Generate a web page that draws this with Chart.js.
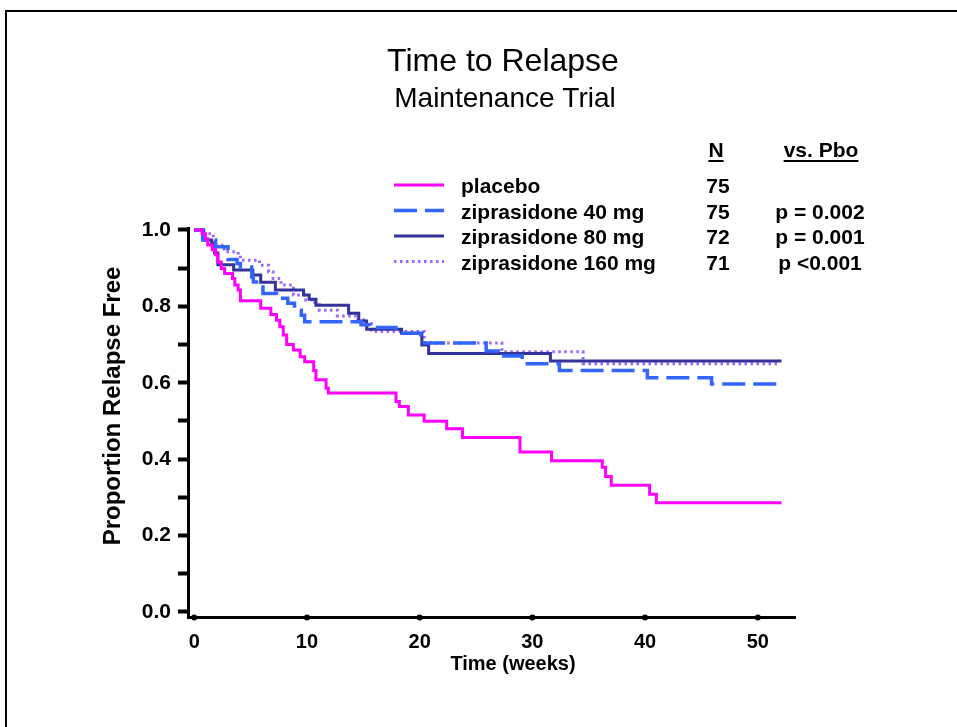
<!DOCTYPE html>
<html>
<head>
<meta charset="utf-8">
<title>Time to Relapse</title>
<script src="https://cdn.jsdelivr.net/npm/chart.js@4.4.1/dist/chart.umd.min.js"></script>
<style>
  html, body { margin: 0; padding: 0; background: #fff; }
  canvas { display: block; }
</style>
</head>
<body>
<canvas id="relapse" width="957" height="727"></canvas>
<script>
// Kaplan-Meier steps: week of the drop, proportion after it
const placeboWeeks = [0, 0.7, 1.0, 1.2, 1.6, 1.9, 2.1, 2.4, 2.7, 3.4, 3.6, 3.9, 4.1, 5.9, 6.8, 7.3, 7.6, 7.9, 8.2, 8.8, 9.4, 9.8, 10.6, 10.8, 11.7, 11.9, 17.9, 18.2, 19.0, 20.4, 22.4, 23.8, 28.9, 31.7, 36.2, 36.5, 37.0, 40.4, 41.0, 52.1];
const placeboFree  = [1.0, 0.99, 0.977, 0.961, 0.948, 0.935, 0.916, 0.899, 0.886, 0.873, 0.856, 0.843, 0.815, 0.795, 0.779, 0.764, 0.747, 0.725, 0.70, 0.686, 0.668, 0.655, 0.632, 0.608, 0.586, 0.573, 0.551, 0.538, 0.516, 0.499, 0.48, 0.457, 0.419, 0.396, 0.379, 0.355, 0.332, 0.308, 0.286, 0.286];

const zip40Weeks = [0, 0.75, 1.9, 3.0, 3.8, 4.1, 5.1, 5.25, 6.1, 7.3, 8.3, 8.9, 9.5, 9.8, 14.8, 15.6, 17.9, 20.1, 20.4, 25.9, 27.0, 29.1, 32.4, 40.2, 45.9, 52.1];
const zip40Free  = [1.0, 0.974, 0.956, 0.923, 0.912, 0.903, 0.877, 0.864, 0.834, 0.821, 0.808, 0.79, 0.777, 0.76, 0.752, 0.745, 0.73, 0.717, 0.704, 0.683, 0.67, 0.65, 0.632, 0.613, 0.597, 0.597];

const zip80Weeks = [0, 0.85, 0.95, 1.55, 1.8, 2.1, 3.5, 5.2, 5.9, 7.2, 9.7, 10.2, 10.8, 13.7, 14.6, 15.3, 18.4, 20.2, 20.8, 31.6, 52.1];
const zip80Free  = [1.0, 0.985, 0.974, 0.966, 0.94, 0.909, 0.895, 0.882, 0.863, 0.843, 0.83, 0.819, 0.803, 0.782, 0.762, 0.74, 0.73, 0.699, 0.677, 0.657, 0.657];

const zip160Weeks = [0, 0.6, 1.7, 1.9, 2.65, 3.9, 4.1, 5.8, 6.6, 7.0, 7.7, 8.8, 9.9, 10.7, 11.1, 12.7, 14.3, 15.2, 15.7, 20.4, 27.3, 34.5, 52.0];
const zip160Free  = [1.0, 0.99, 0.974, 0.96, 0.943, 0.934, 0.921, 0.908, 0.89, 0.873, 0.856, 0.83, 0.817, 0.804, 0.79, 0.775, 0.765, 0.755, 0.734, 0.704, 0.681, 0.65, 0.65];

const groupNames = ["placebo", "ziprasidone 40 mg", "ziprasidone 80 mg", "ziprasidone 160 mg"];
const groupN = ["75", "75", "72", "71"];
const groupP = ["", "p = 0.002", "p = 0.001", "p <0.001"];

const xTicks = [0, 10, 20, 30, 40, 50];
const yTicks = [0, 0.1, 0.2, 0.3, 0.4, 0.5, 0.6, 0.7, 0.8, 0.9, 1.0];
const yTickLabels = ["0.0", "", "0.2", "", "0.4", "", "0.6", "", "0.8", "", "1.0"];

const fam = "'Liberation Sans', Arial, Helvetica, sans-serif";
Chart.defaults.font.family = fam;
Chart.defaults.color = "#000";

function toPoints(weeks, free) {
  return weeks.map((w, i) => ({ x: w, y: free[i] }));
}

const drawExtras = {
  id: "drawExtras",
  beforeDraw(chart) {
    const ctx = chart.ctx;
    ctx.save();
    ctx.fillStyle = "#fff";
    ctx.fillRect(0, 0, chart.width, chart.height);
    // frame, only top and left edges show in the picture
    ctx.fillStyle = "#000";
    ctx.fillRect(5, 10, chart.width, 2);
    ctx.fillRect(5, 10, 2, chart.height);
    ctx.restore();
  },
  afterDraw(chart) {
    const ctx = chart.ctx;
    const xs = chart.scales.x;
    const bottom = chart.chartArea.bottom;
    ctx.save();

    // round tick marks on the x axis
    ctx.fillStyle = "#000";
    xTicks.forEach(v => {
      ctx.beginPath();
      ctx.arc(xs.getPixelForValue(v), bottom, 3, 0, Math.PI * 2);
      ctx.fill();
    });

    ctx.textAlign = "center";
    ctx.textBaseline = "alphabetic";
    ctx.font = "32px " + fam;
    ctx.fillText("Time to Relapse", 503, 71);
    ctx.font = "28px " + fam;
    ctx.fillText("Maintenance Trial", 505, 107);

    ctx.font = "bold 20px " + fam;
    ctx.fillText("Time (weeks)", 513, 670);

    ctx.save();
    ctx.translate(120, 406);
    ctx.rotate(-Math.PI / 2);
    ctx.font = "bold 24px " + fam;
    ctx.fillText("Proportion Relapse Free", 0, 0);
    ctx.restore();

    // legend table
    ctx.font = "bold 21px " + fam;
    const heads = [["N", 716], ["vs. Pbo", 821]];
    heads.forEach(h => {
      ctx.fillText(h[0], h[1], 157);
      const w = ctx.measureText(h[0]).width;
      ctx.fillRect(h[1] - w / 2, 160, w, 2);
    });

    const rowBase = [193, 218.5, 244, 269.5];
    chart.data.datasets.forEach((ds, i) => {
      const yLine = rowBase[i] - 8;
      ctx.save();
      ctx.strokeStyle = ds.borderColor;
      ctx.lineWidth = ds.borderWidth;
      ctx.setLineDash(ds.borderDash || []);
      ctx.lineCap = "butt";
      ctx.beginPath();
      ctx.moveTo(394, yLine);
      ctx.lineTo(444, yLine);
      ctx.stroke();
      ctx.restore();

      ctx.textAlign = "left";
      ctx.fillText(groupNames[i], 461, rowBase[i]);
      ctx.textAlign = "center";
      ctx.fillText(groupN[i], 718, rowBase[i]);
      if (groupP[i]) ctx.fillText(groupP[i], 820, rowBase[i]);
    });

    ctx.restore();
  }
};

document.addEventListener("DOMContentLoaded", () => {
  const ctx = document.getElementById("relapse");

  new Chart(ctx, {
    type: "scatter",
    data: {
      datasets: [
        {
          label: groupNames[0],
          data: toPoints(placeboWeeks, placeboFree),
          borderColor: "#ff00ff",
          borderWidth: 3
        },
        {
          label: groupNames[1],
          data: toPoints(zip40Weeks, zip40Free),
          borderColor: "#3366ff",
          borderWidth: 3.5,
          borderDash: [23, 8]
        },
        {
          label: groupNames[2],
          data: toPoints(zip80Weeks, zip80Free),
          borderColor: "#333399",
          borderWidth: 3
        },
        {
          label: groupNames[3],
          data: toPoints(zip160Weeks, zip160Free),
          borderColor: "#9966ff",
          borderWidth: 3,
          borderDash: [2.5, 3.5]
        }
      ].map(ds => Object.assign(ds, {
        showLine: true,
        stepped: true,
        pointRadius: 0,
        fill: false,
        borderCapStyle: "butt"
      }))
    },
    options: {
      responsive: false,
      animation: false,
      devicePixelRatio: 1,
      layout: { padding: { top: 228, right: 162, left: 0, bottom: 0 } },
      plugins: {
        legend: { display: false },
        tooltip: { enabled: false }
      },
      scales: {
        x: {
          type: "linear",
          min: -0.55,
          max: 53.3,
          afterFit: s => { s.height = 109.5; },
          afterBuildTicks: s => { s.ticks = xTicks.map(v => ({ value: v })); },
          grid: { display: false, drawTicks: false },
          border: { display: true, color: "#000", width: 3 },
          ticks: { color: "#000", font: { size: 20, weight: "bold" }, padding: 13, maxRotation: 0 }
        },
        y: {
          type: "linear",
          min: -0.0144,
          max: 1.0052,
          afterFit: s => { s.width = 188; },
          afterBuildTicks: s => { s.ticks = yTicks.map(v => ({ value: v })); },
          grid: { drawOnChartArea: false, drawTicks: true, tickLength: 10, tickWidth: 4, tickColor: "#000" },
          border: { display: true, color: "#000", width: 3 },
          ticks: {
            color: "#000",
            font: { size: 21, weight: "bold" },
            padding: 7,
            callback: (v, i) => yTickLabels[i]
          }
        }
      }
    },
    plugins: [drawExtras]
  });
});
</script>
</body>
</html>
